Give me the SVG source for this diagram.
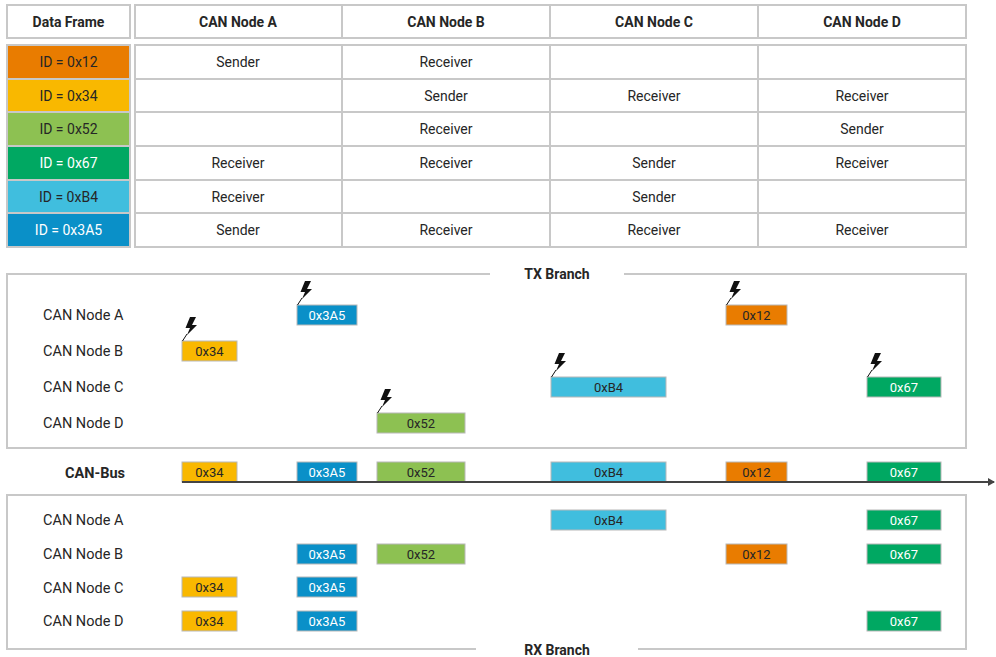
<svg xmlns="http://www.w3.org/2000/svg" width="996" height="657" viewBox="0 0 996 657">
  <style>
    text { font-family: Roboto, "Liberation Sans", Arial, sans-serif; fill: #262626; }
    .hd { font-size: 14px; font-weight: bold; text-anchor: middle; }
    .cell { font-size: 14px; text-anchor: middle; }
    .lbl { font-size: 14.5px; }
    .blk { font-size: 13px; text-anchor: middle; }
    .wt { fill: #fff; }
    .grid { fill: #fff; stroke: #c8c8c8; stroke-width: 2; }
    .gl { stroke: #c8c8c8; stroke-width: 2; fill: none; }
    .frame { stroke: #c8c8c8; stroke-width: 2; fill: none; }
    .b { stroke: #b8b8b8; stroke-width: 1; }
    .c12 { fill: #E97C00; }
    .c34 { fill: #F9B800; }
    .c52 { fill: #8DC152; }
    .c67 { fill: #00A862; }
    .cB4 { fill: #40BEDE; }
    .c3A5 { fill: #0A90C8; }
    .bolt { fill: #111; }
    .stem { stroke: #111; stroke-width: 1; fill: none; }
  </style>
  <defs>
    <marker id="arrow" markerWidth="8" markerHeight="8" refX="6" refY="4" orient="auto" markerUnits="userSpaceOnUse">
      <path d="M0,0 L7,4 L0,8 Z" fill="#444"/>
    </marker>
    <!-- lightning bolt whose stem ends at the origin -->
    <g id="bolt">
      <path class="bolt" d="M8,-24 L14,-24 L10,-16 L15,-16 L5,-6 L8,-13 L3.5,-13 Z"/>
      <path class="stem" d="M5,-7 L0.5,0"/>
    </g>
  </defs>

  <!-- frame/ownership table -->
  <g id="table">
    <rect class="grid" x="7" y="5" width="123" height="33"/>
    <text class="hd" x="68.5" y="26.5">Data Frame</text>
    <rect class="grid" x="135" y="5" width="831" height="33"/>
    <path class="gl" d="M342,5 V38 M550,5 V38 M758,5 V38"/>
    <text class="hd" x="238" y="26.5">CAN Node A</text>
    <text class="hd" x="446" y="26.5">CAN Node B</text>
    <text class="hd" x="654" y="26.5">CAN Node C</text>
    <text class="hd" x="862" y="26.5">CAN Node D</text>

    <rect class="c12" x="7" y="45" width="123" height="34"/>
    <rect class="c34" x="7" y="79" width="123" height="33"/>
    <rect class="c52" x="7" y="112" width="123" height="34"/>
    <rect class="c67" x="7" y="146" width="123" height="34"/>
    <rect class="cB4" x="7" y="180" width="123" height="33"/>
    <rect class="c3A5" x="7" y="213" width="123" height="34"/>
    <path class="gl" d="M7,45 H130 V247 H7 Z M7,79 H130 M7,112 H130 M7,146 H130 M7,180 H130 M7,213 H130" stroke="#b0b0b0"/>
    <text class="cell" x="68.5" y="67">ID = 0x12</text>
    <text class="cell" x="68.5" y="101">ID = 0x34</text>
    <text class="cell" x="68.5" y="134">ID = 0x52</text>
    <text class="cell wt" x="68.5" y="168">ID = 0x67</text>
    <text class="cell" x="68.5" y="202">ID = 0xB4</text>
    <text class="cell wt" x="68.5" y="235">ID = 0x3A5</text>

    <rect class="grid" x="135" y="45" width="831" height="202"/>
    <path class="gl" d="M342,45 V247 M550,45 V247 M758,45 V247 M135,79 H966 M135,112 H966 M135,146 H966 M135,180 H966 M135,213 H966"/>

    <text class="cell" x="238" y="67">Sender</text>
    <text class="cell" x="446" y="67">Receiver</text>

    <text class="cell" x="446" y="101">Sender</text>
    <text class="cell" x="654" y="101">Receiver</text>
    <text class="cell" x="862" y="101">Receiver</text>

    <text class="cell" x="446" y="134">Receiver</text>
    <text class="cell" x="862" y="134">Sender</text>

    <text class="cell" x="238" y="168">Receiver</text>
    <text class="cell" x="446" y="168">Receiver</text>
    <text class="cell" x="654" y="168">Sender</text>
    <text class="cell" x="862" y="168">Receiver</text>

    <text class="cell" x="238" y="202">Receiver</text>
    <text class="cell" x="654" y="202">Sender</text>

    <text class="cell" x="238" y="235">Sender</text>
    <text class="cell" x="446" y="235">Receiver</text>
    <text class="cell" x="654" y="235">Receiver</text>
    <text class="cell" x="862" y="235">Receiver</text>
  </g>

  <!-- transmit branch -->
  <g id="tx-branch">
    <path class="frame" d="M490,274 H7 V448 H966 V274 H624"/>
    <text class="hd" x="557" y="278.5">TX Branch</text>
    <text class="lbl" x="43" y="320">CAN Node A</text>
    <text class="lbl" x="43" y="356">CAN Node B</text>
    <text class="lbl" x="43" y="392">CAN Node C</text>
    <text class="lbl" x="43" y="428">CAN Node D</text>

    <rect class="c3A5 b" x="297" y="305" width="60" height="20"/>
    <text class="blk wt" x="327" y="319.5">0x3A5</text>
    <use href="#bolt" x="297" y="305"/>

    <rect class="c12 b" x="726" y="305" width="61" height="20"/>
    <text class="blk" x="756.5" y="319.5">0x12</text>
    <use href="#bolt" x="726" y="305"/>

    <rect class="c34 b" x="182" y="341" width="55" height="20"/>
    <text class="blk" x="209.5" y="355.5">0x34</text>
    <use href="#bolt" x="182" y="341"/>

    <rect class="cB4 b" x="551" y="377" width="115" height="20"/>
    <text class="blk" x="608.5" y="391.5">0xB4</text>
    <use href="#bolt" x="551" y="377"/>

    <rect class="c67 b" x="867" y="377" width="74" height="20"/>
    <text class="blk wt" x="904" y="391.5">0x67</text>
    <use href="#bolt" x="867" y="377"/>

    <rect class="c52 b" x="377" y="413" width="88" height="20"/>
    <text class="blk" x="421" y="427.5">0x52</text>
    <use href="#bolt" x="377" y="413"/>
  </g>

  <!-- shared bus -->
  <g id="can-bus">
    <text class="lbl" x="125" y="478" text-anchor="end" font-weight="bold">CAN-Bus</text>
    <rect class="c34 b" x="182" y="462" width="55" height="20"/>
    <text class="blk" x="209.5" y="476.5">0x34</text>
    <rect class="c3A5 b" x="297" y="462" width="60" height="20"/>
    <text class="blk wt" x="327" y="476.5">0x3A5</text>
    <rect class="c52 b" x="377" y="462" width="88" height="20"/>
    <text class="blk" x="421" y="476.5">0x52</text>
    <rect class="cB4 b" x="551" y="462" width="115" height="20"/>
    <text class="blk" x="608.5" y="476.5">0xB4</text>
    <rect class="c12 b" x="726" y="462" width="61" height="20"/>
    <text class="blk" x="756.5" y="476.5">0x12</text>
    <rect class="c67 b" x="867" y="462" width="74" height="20"/>
    <text class="blk wt" x="904" y="476.5">0x67</text>
  </g>

  <g id="connectors">
    <line x1="182" y1="482" x2="994" y2="482" stroke="#444" stroke-width="2" marker-end="url(#arrow)"/>
  </g>

  <!-- receive branch -->
  <g id="rx-branch">
    <path class="frame" d="M476,649 H7 V495 H966 V649 H638"/>
    <text class="hd" x="557" y="654.5">RX Branch</text>
    <text class="lbl" x="43" y="525">CAN Node A</text>
    <text class="lbl" x="43" y="559">CAN Node B</text>
    <text class="lbl" x="43" y="593">CAN Node C</text>
    <text class="lbl" x="43" y="626">CAN Node D</text>

    <rect class="cB4 b" x="551" y="510" width="115" height="20"/>
    <text class="blk" x="608.5" y="524.5">0xB4</text>
    <rect class="c67 b" x="867" y="510" width="74" height="20"/>
    <text class="blk wt" x="904" y="524.5">0x67</text>

    <rect class="c3A5 b" x="297" y="544" width="60" height="20"/>
    <text class="blk wt" x="327" y="558.5">0x3A5</text>
    <rect class="c52 b" x="377" y="544" width="88" height="20"/>
    <text class="blk" x="421" y="558.5">0x52</text>
    <rect class="c12 b" x="726" y="544" width="61" height="20"/>
    <text class="blk" x="756.5" y="558.5">0x12</text>
    <rect class="c67 b" x="867" y="544" width="74" height="20"/>
    <text class="blk wt" x="904" y="558.5">0x67</text>

    <rect class="c34 b" x="182" y="577" width="55" height="20"/>
    <text class="blk" x="209.5" y="591.5">0x34</text>
    <rect class="c3A5 b" x="297" y="577" width="60" height="20"/>
    <text class="blk wt" x="327" y="591.5">0x3A5</text>

    <rect class="c34 b" x="182" y="611" width="55" height="20"/>
    <text class="blk" x="209.5" y="625.5">0x34</text>
    <rect class="c3A5 b" x="297" y="611" width="60" height="20"/>
    <text class="blk wt" x="327" y="625.5">0x3A5</text>
    <rect class="c67 b" x="867" y="611" width="74" height="20"/>
    <text class="blk wt" x="904" y="625.5">0x67</text>
  </g>
</svg>
